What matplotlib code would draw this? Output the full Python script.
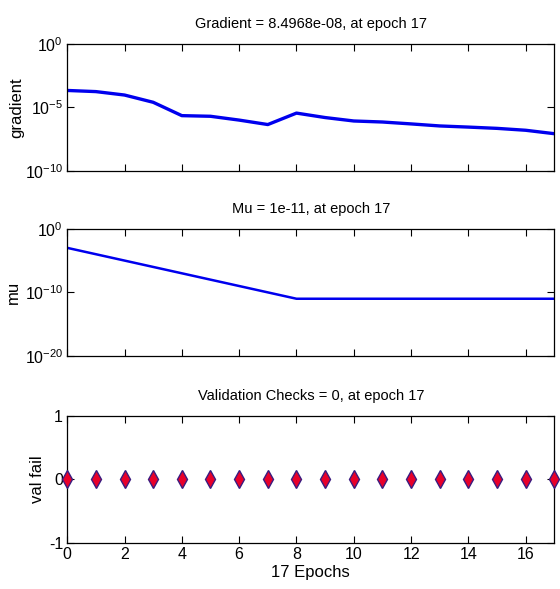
import numpy as np
import matplotlib
matplotlib.use("Agg")
import matplotlib.pyplot as plt

# data
epochs = np.arange(0, 18)
grad_log = [-3.67, -3.76, -4.03, -4.6, -5.65, -5.7, -6.0, -6.35, -5.45, -5.8,
            -6.07, -6.15, -6.3, -6.46, -6.55, -6.65, -6.8, -7.07]
mu_log = [-3, -4, -5, -6, -7, -8, -9, -10, -11, -11, -11, -11, -11, -11, -11, -11, -11, -11]
val_fail = [0] * 18

gradient = 10.0 ** np.array(grad_log)
mu = 10.0 ** np.array(mu_log)

titles = ["Gradient = 8.4968e-08, at epoch 17",
          "Mu = 1e-11, at epoch 17",
          "Validation Checks = 0, at epoch 17"]
ylabels = ["gradient", "mu", "val fail"]
ylabel_x = [-0.088, -0.094, -0.045]

plt.rcParams['font.family'] = ["Liberation Sans", "DejaVu Sans"]
plt.rcParams['mathtext.fontset'] = 'custom'
plt.rcParams['mathtext.rm'] = 'Liberation Sans'
plt.rcParams['mathtext.it'] = 'Liberation Sans'
plt.rcParams['mathtext.default'] = 'regular'
plt.rcParams['axes.unicode_minus'] = False

fig = plt.figure(figsize=(5.6, 5.89), dpi=100)
left, width, height = 0.120, 0.870, 0.216
bottoms = [0.7097, 0.3956, 0.0781]
axs = [fig.add_axes([left, b, width, height]) for b in bottoms]

axs[0].semilogy(epochs, gradient, color='#0000ee', lw=2.4)
axs[0].set_ylim(1e-10, 1)
axs[0].set_yticks([1e-10, 1e-5, 1])
axs[0].set_yticklabels(['$10^{-10}$', '$10^{-5}$', '$10^{0}$'])

axs[1].semilogy(epochs, mu, color='#0000ee', lw=1.8)
axs[1].set_ylim(1e-20, 1)
axs[1].set_yticks([1e-20, 1e-10, 1])
axs[1].set_yticklabels(['$10^{-20}$', '$10^{-10}$', '$10^{0}$'])

axs[2].plot(epochs, val_fail, 'd', ms=9, mfc='#e8002a', mec='#3a1c80', mew=1.0,
            clip_on=False, zorder=3)
axs[2].set_ylim(-1, 1)
axs[2].set_yticks([-1, 0, 1])

for i, ax in enumerate(axs):
    ax.set_xlim(0, 17)
    ax.set_xticks(np.arange(0, 17, 2))
    ax.minorticks_off()
    ax.tick_params(direction='in', top=True, right=True, length=5, width=0.8,
                   labelsize=11.5, pad=3)
    ax.set_title(titles[i], fontsize=10.5, pad=11)
    ax.set_ylabel(ylabels[i], fontsize=12)
    ax.yaxis.set_label_coords(ylabel_x[i], 0.5)
    for s in ax.spines.values():
        s.set_linewidth(0.9)
    if i < 2:
        ax.set_xticklabels([])

axs[2].set_xlabel("17 Epochs", fontsize=12, labelpad=2)

fig.savefig("out.png", dpi=100)
